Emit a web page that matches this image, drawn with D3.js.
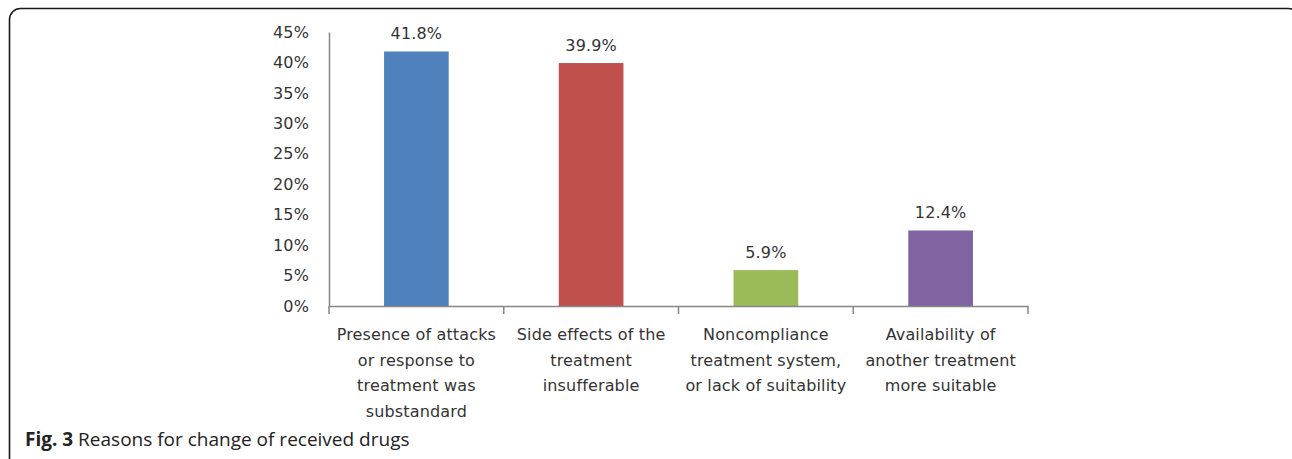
<!DOCTYPE html>
<html><head><meta charset="utf-8">
<script src="https://cdn.jsdelivr.net/npm/d3@7"></script>
<style>html,body{margin:0;padding:0;background:#fff;}svg{display:block;}</style>
</head><body>
<svg id="chart" width="1292" height="459"></svg>
<script>
const categories = [
  ["Presence of attacks", "or response to", "treatment was", "substandard"],
  ["Side effects of the", "treatment", "insufferable"],
  ["Noncompliance", "treatment system,", "or lack of suitability"],
  ["Availability of", "another treatment", "more suitable"]
];
const values = [41.8, 39.9, 5.9, 12.4];
const valueLabels = ["41.8%", "39.9%", "5.9%", "12.4%"];
const colors = ["#4F81BD", "#C0504D", "#9BBB59", "#8064A2"];
const yTicks = [0, 5, 10, 15, 20, 25, 30, 35, 40, 45];

(function () {
const svg = d3.select("#chart");
const font = "'DejaVu Sans', Verdana, sans-serif";
const fs = 16;
const ls = 0.15;

// frame
svg.append("rect").attr("x", 9.5).attr("y", 8.5).attr("width", 1290).attr("height", 520)
  .attr("rx", 11).attr("fill", "none").attr("stroke", "#1a1a1a").attr("stroke-width", 1.6);

const pl = 329, pr = 1028, pt = 32, pb = 306;
const x = d3.scaleBand().domain(d3.range(values.length)).range([pl, pr]).padding(0);
const y = d3.scaleLinear().domain([0, 45]).range([pb, pt]);

// y axis
const yAxis = d3.axisLeft(y).tickValues(yTicks).tickFormat(d => d + "%").tickSize(0).tickPadding(20);
const gy = svg.append("g").attr("transform", `translate(${pl},0)`).call(yAxis);
gy.select(".domain").attr("stroke", "#868686").attr("stroke-width", 1.5);
gy.selectAll("text").attr("font-family", font).attr("font-size", fs).attr("letter-spacing", ls).attr("fill", "#333");

// bars
const bw = x.bandwidth() * 0.37;
svg.append("g").selectAll("rect").data(values).join("rect")
  .attr("x", (d, i) => x(i) + (x.bandwidth() - bw) / 2)
  .attr("y", d => y(d))
  .attr("width", bw)
  .attr("height", d => y(0) - y(d))
  .attr("fill", (d, i) => colors[i]);

// value labels
svg.append("g").selectAll("text").data(values).join("text")
  .attr("x", (d, i) => x(i) + x.bandwidth() / 2)
  .attr("y", d => y(d) - 12)
  .attr("text-anchor", "middle")
  .attr("font-family", font).attr("font-size", fs).attr("letter-spacing", ls).attr("fill", "#333")
  .text((d, i) => valueLabels[i]);

// x axis
const xAxis = d3.axisBottom(x).tickSize(0).tickFormat("");
const gx = svg.append("g").attr("transform", `translate(0,${pb})`).call(xAxis);
gx.select(".domain").attr("stroke", "#868686").attr("stroke-width", 1.5);
gx.selectAll(".tick").remove();
const bounds = d3.range(values.length + 1).map(i => i < values.length ? x(i) : x(values.length - 1) + x.bandwidth());
svg.append("g").selectAll("line").data(bounds).join("line")
  .attr("x1", d => d).attr("x2", d => d)
  .attr("y1", pb).attr("y2", pb + 8)
  .attr("stroke", "#868686").attr("stroke-width", 1.5);

// category labels
const cl = svg.append("g").selectAll("text").data(categories).join("text")
  .attr("x", (d, i) => x(i) + x.bandwidth() / 2)
  .attr("y", 340)
  .attr("text-anchor", "middle")
  .attr("font-family", font).attr("font-size", fs).attr("letter-spacing", ls).attr("fill", "#333");
cl.selectAll("tspan").data(d => d).join("tspan")
  .attr("x", function() { return d3.select(this.parentNode).attr("x"); })
  .attr("dy", (d, i) => i === 0 ? 0 : 25.5)
  .text(d => d);

// caption
const cap = svg.append("text").attr("x", 25).attr("y", 446)
  .attr("font-family", "'Open Sans', sans-serif").attr("font-size", 19).attr("fill", "#222");
cap.append("tspan").attr("font-weight", "bold").text("Fig. 3");
cap.append("tspan").text(" Reasons for change of received drugs");
})();
</script>
</body></html>
